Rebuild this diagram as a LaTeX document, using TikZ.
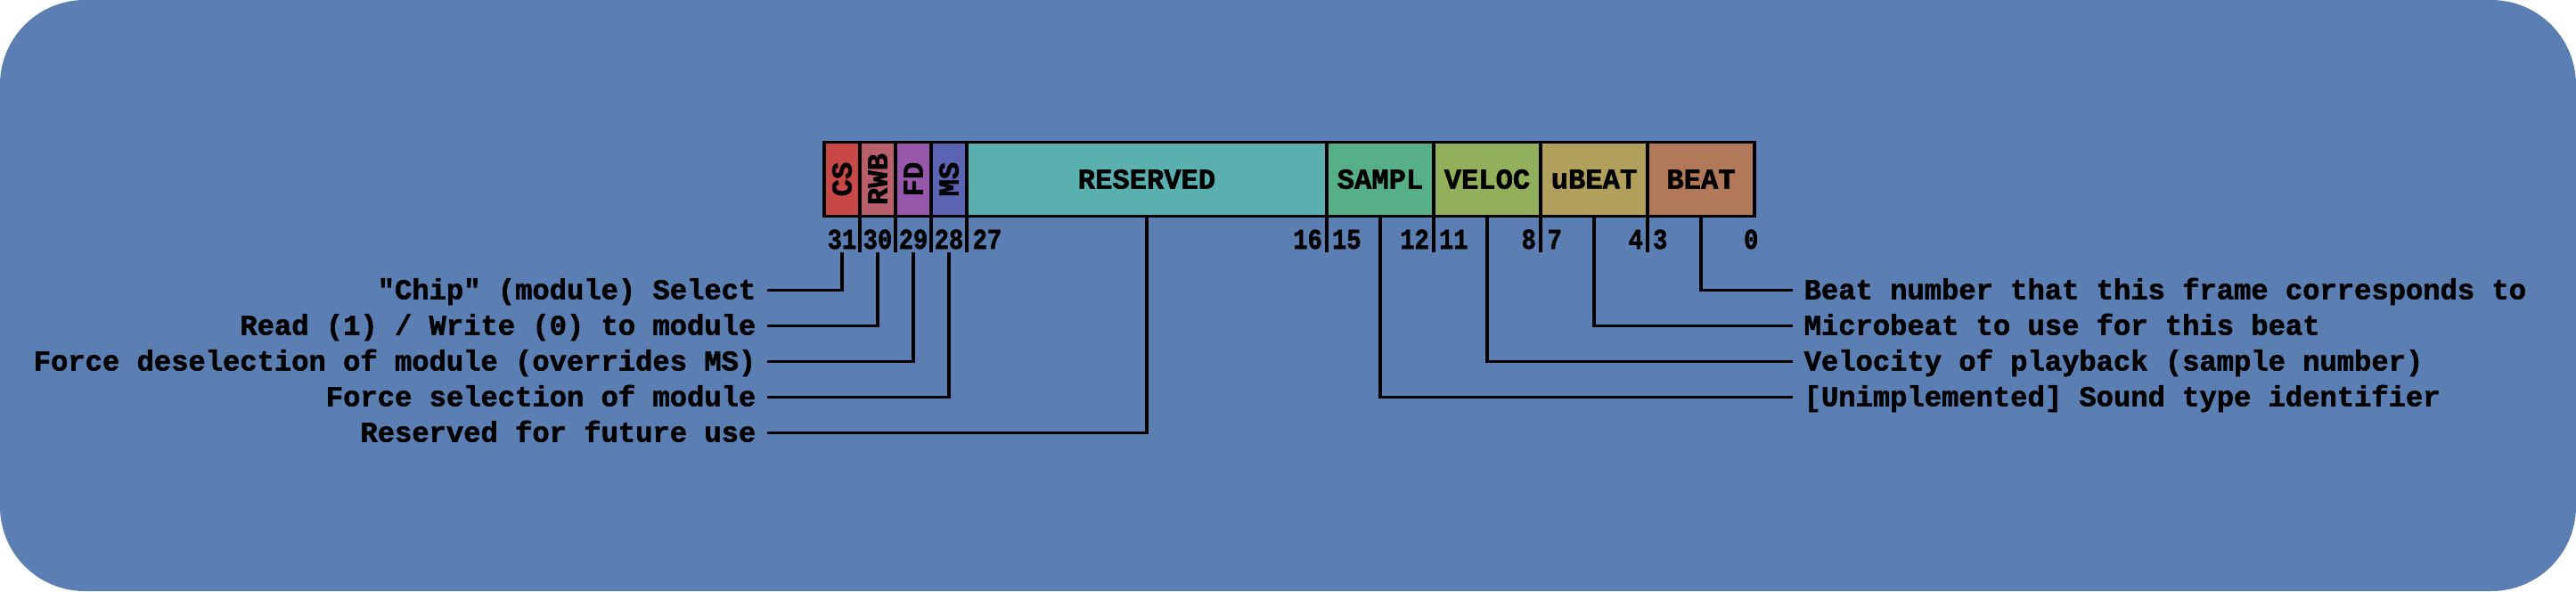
\documentclass[tikz,border=0pt]{standalone}
\usepackage{fontspec}
\setmonofont{Liberation Mono}[BoldFeatures = {FakeBold = 1.6}]
\newfontfamily\bitfont{Liberation Mono}[FakeStretch = 0.84, BoldFeatures = {FakeBold = 1.6}]
\usepackage{tikz}
\usetikzlibrary{positioning}

\definecolor{bgblue}{HTML}{5B7FB2}
\definecolor{cscol}{HTML}{C84747}
\definecolor{rwbcol}{HTML}{B95F6C}
\definecolor{fdcol}{HTML}{9757AB}
\definecolor{mscol}{HTML}{5B63B3}
\definecolor{rescol}{HTML}{59B0AE}
\definecolor{samplcol}{HTML}{57AF88}
\definecolor{veloccol}{HTML}{92B05B}
\definecolor{ubeatcol}{HTML}{B1A05B}
\definecolor{beatcol}{HTML}{B2785A}

\begin{document}
\begin{tikzpicture}[
            line width = 0.95pt, % line style
            every node/.style = {font = \ttfamily\bfseries\fontsize{9.15}{11}\selectfont},
            node distance = 0pt % fields touch each other
        ]

        \tikzstyle{field}=[
            draw = black,
            line width = 1.05pt,
            inner sep = 0pt,
            outer sep = 0pt,
            minimum height = 8.3mm
        ]
        \tikzstyle{bitnum}=[inner sep = 0pt, anchor = base, font = \bitfont\bfseries\fontsize{9.15}{11}\selectfont]
        \tikzstyle{desc}=[inner sep = 1.1mm, text height = 2mm, text depth = 0pt]

        % background
        \fill[bgblue, rounded corners = 9.5mm] (0,0) rectangle (28.91,-6.63);

        % register fields
        \node[field, fill = cscol, minimum width = 4mm, anchor = west] (cs) at (9.25,-2.01) {\rotatebox{90}{CS}};
        \node[field, fill = rwbcol, minimum width = 4mm, right = of cs] (rwb) {\rotatebox{90}{RWB}};
        \node[field, fill = fdcol, minimum width = 4mm, right = of rwb] (fd) {\rotatebox{90}{FD}};
        \node[field, fill = mscol, minimum width = 4mm, right = of fd] (ms) {\rotatebox{90}{MS}};
        \node[field, fill = rescol, minimum width = 40.4mm, right = of ms] (res) {RESERVED};
        \node[field, fill = samplcol, minimum width = 12mm, right = of res] (sampl) {SAMPL};
        \node[field, fill = veloccol, minimum width = 12mm, right = of sampl] (veloc) {VELOC};
        \node[field, fill = ubeatcol, minimum width = 12mm, right = of veloc] (ubeat) {uBEAT};
        \node[field, fill = beatcol, minimum width = 12mm, right = of ubeat] (beat) {BEAT};

        % separators under the fields
        \draw (cs.south east) -- ++(0,-0.4) (rwb.south east) -- ++(0,-0.4)
              (fd.south east) -- ++(0,-0.4) (ms.south east) -- ++(0,-0.4)
              (res.south east) -- ++(0,-0.4) (sampl.south east) -- ++(0,-0.4)
              (veloc.south east) -- ++(0,-0.4) (ubeat.south east) -- ++(0,-0.4);

        % bit numbers
        \node[bitnum] (n31) at (9.45,-2.79) {31};
        \node[bitnum] (n30) at (9.85,-2.79) {30};
        \node[bitnum] (n29) at (10.25,-2.79) {29};
        \node[bitnum] (n28) at (10.65,-2.79) {28};
        \node[bitnum, anchor = base west] (n27) at (10.9,-2.79) {27};
        \node[bitnum, anchor = base east] (n16) at (14.855,-2.79) {16};
        \node[bitnum, anchor = base west] (n15) at (14.935,-2.79) {15};
        \node[bitnum, anchor = base east] (n12) at (16.055,-2.79) {12};
        \node[bitnum, anchor = base west] (n11) at (16.135,-2.79) {11};
        \node[bitnum, anchor = base east] (n8) at (17.255,-2.79) {8};
        \node[bitnum, anchor = base west] (n7) at (17.35,-2.79) {7};
        \node[bitnum, anchor = base east] (n4) at (18.455,-2.79) {4};
        \node[bitnum, anchor = base west] (n3) at (18.535,-2.79) {3};
        \node[bitnum, anchor = base east] (n0) at (19.75,-2.79) {0};

        % descriptions
        \node[desc, anchor = east] (cstxt) at (8.61,-3.255) {"Chip" (module) Select};
        \node[desc, anchor = east] (rwbtxt) at (8.61,-3.655) {Read (1) / Write (0) to module};
        \node[desc, anchor = east] (fdtxt) at (8.61,-4.055) {Force deselection of module (overrides MS)};
        \node[desc, anchor = east] (mstxt) at (8.61,-4.455) {Force selection of module};
        \node[desc, anchor = east] (restxt) at (8.61,-4.855) {Reserved for future use};
        \node[desc, anchor = west] (beattxt) at (20.12,-3.255) {Beat number that this frame corresponds to};
        \node[desc, anchor = west] (ubeattxt) at (20.12,-3.655) {Microbeat to use for this beat};
        \node[desc, anchor = west] (veloctxt) at (20.12,-4.055) {Velocity of playback (sample number)};
        \node[desc, anchor = west] (sampltxt) at (20.12,-4.455) {[Unimplemented] Sound type identifier};

        \draw ([yshift=-4mm]cs.south) |- (cstxt.east);
        \draw ([yshift=-4mm]rwb.south) |- (rwbtxt.east);
        \draw ([yshift=-4mm]fd.south) |- (fdtxt.east);
        \draw ([yshift=-4mm]ms.south) |- (mstxt.east);
        \draw (res.south) |- (restxt.east);
        \draw (beat.south) |- (beattxt.west);
        \draw (ubeat.south) |- (ubeattxt.west);
        \draw (veloc.south) |- (veloctxt.west);
        \draw (sampl.south) |- (sampltxt.west);
    \end{tikzpicture}
\end{document}
